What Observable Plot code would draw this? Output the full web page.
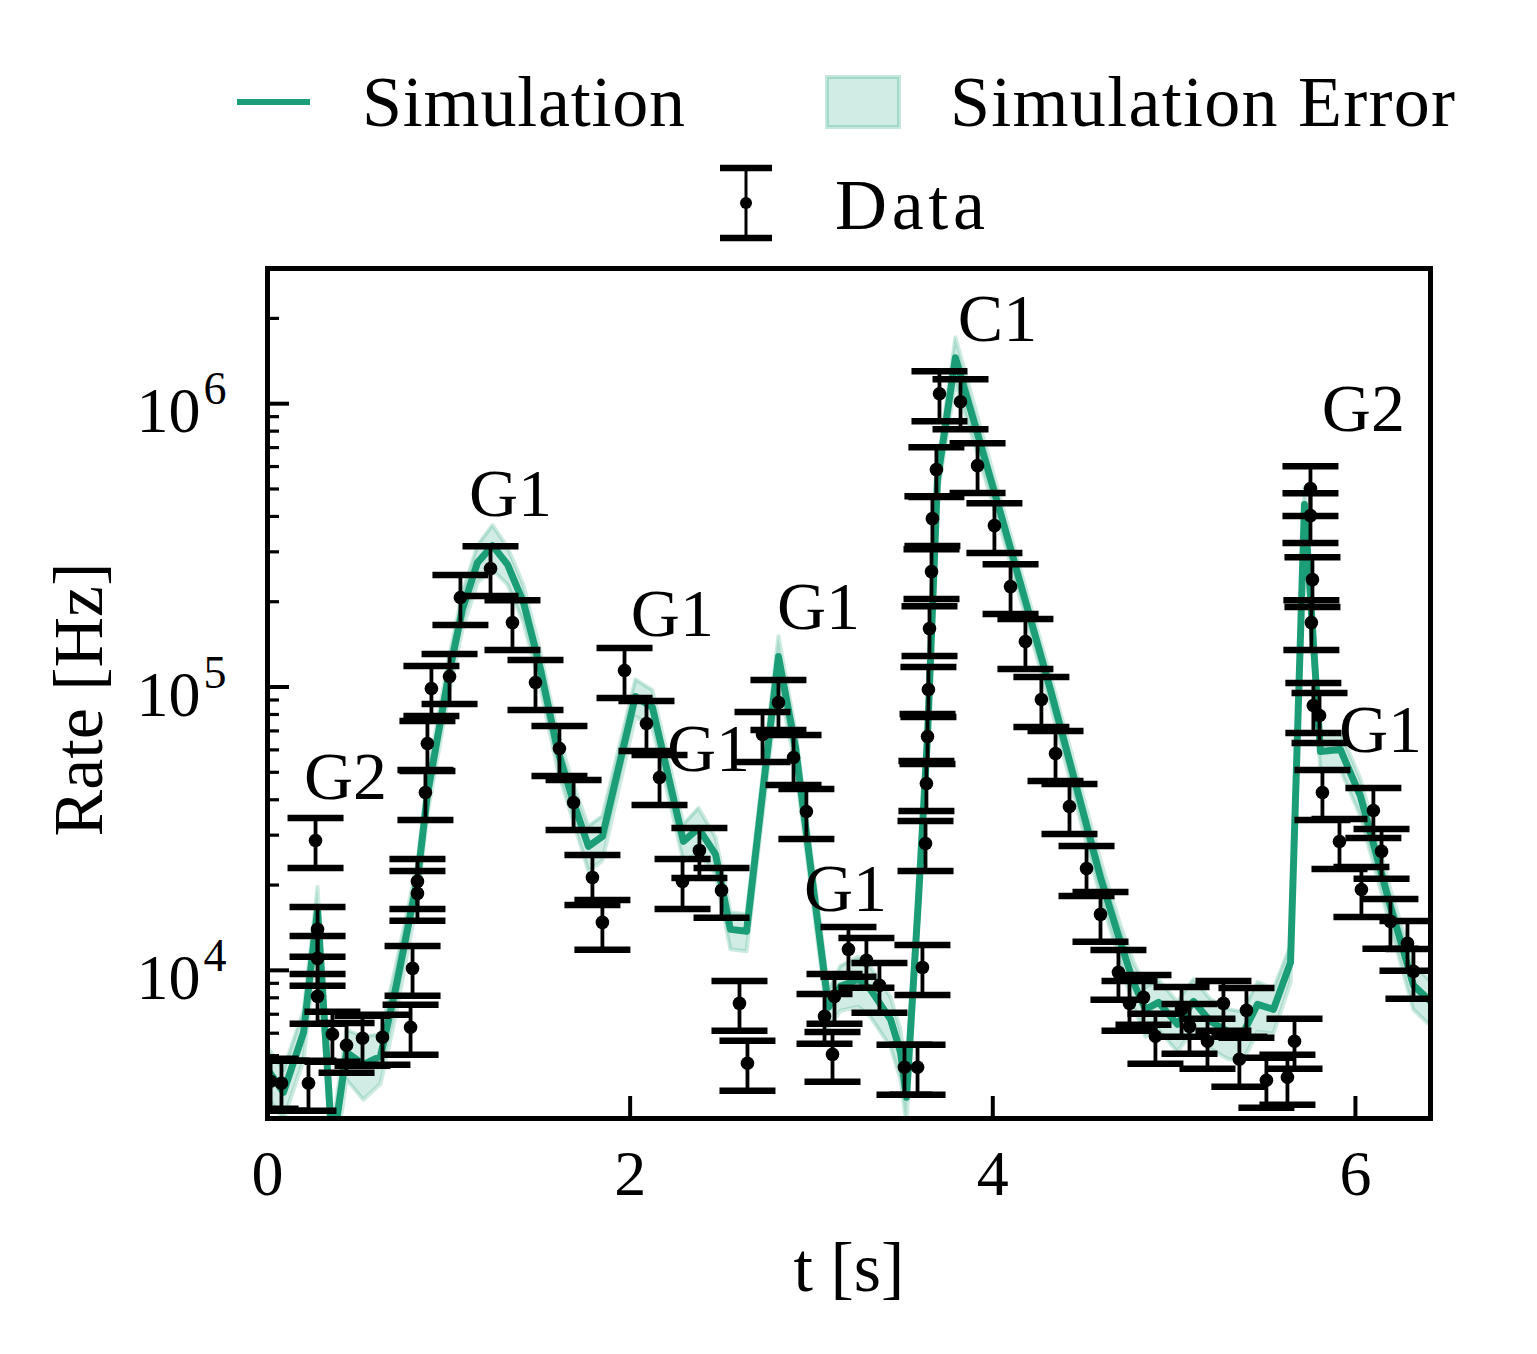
<!DOCTYPE html>
<html>
<head>
<meta charset="utf-8">
<script src="https://cdn.jsdelivr.net/npm/d3@7"></script>
<script src="https://cdn.jsdelivr.net/npm/@observablehq/plot@0.6"></script>
<style>
  html, body { margin: 0; padding: 0; background: #fff; }
  #wrap { position: relative; width: 1537px; height: 1354px; overflow: hidden; }
  #chart, #legend { position: absolute; left: 0; top: 0; }
  #legend text { font-family: "Liberation Serif", serif; font-size: 72px; fill: #000; }
</style>
</head>
<body>
<div id="wrap">
  <div id="chart"></div>
  <svg id="legend" width="1537" height="260">
    <line x1="237" x2="310" y1="102" y2="102" stroke="#1b9e77" stroke-width="6"></line>
    <text x="362" y="126" textLength="323" lengthAdjust="spacing">Simulation</text>
    <rect x="827" y="77" width="72" height="50" fill="#1b9e77" fill-opacity="0.2" stroke="#1b9e77" stroke-opacity="0.25" stroke-width="4"></rect>
    <text x="950" y="126" textLength="505" lengthAdjust="spacing">Simulation Error</text>
    <line x1="746" x2="746" y1="168" y2="238" stroke="#000" stroke-width="3"></line>
    <line x1="720" x2="772" y1="168" y2="168" stroke="#000" stroke-width="6.5"></line>
    <line x1="720" x2="772" y1="238" y2="238" stroke="#000" stroke-width="6.5"></line>
    <circle cx="746" cy="203" r="6" fill="#000"></circle>
    <text x="835" y="229" textLength="150" lengthAdjust="spacing">Data</text>
  </svg>
</div>
<script>
// ---- Data ----
const dataTime = [0.017,0.077,0.226,0.265,0.276,0.276,0.276,0.358,0.436,0.524,0.634,0.789,0.800,0.827,0.827,0.871,0.882,0.904,1.004,1.064,1.230,1.351,1.478,1.610,1.688,1.792,1.847,1.969,2.090,2.162,2.289,2.382,2.504,2.603,2.647,2.730,2.818,2.901,2.972,3.072,3.116,3.127,3.204,3.303,3.375,3.513,3.585,3.612,3.629,3.634,3.640,3.645,3.651,3.662,3.667,3.689,3.706,3.822,3.916,4.009,4.098,4.180,4.268,4.346,4.423,4.517,4.594,4.693,4.754,4.831,4.897,5.041,5.085,5.184,5.272,5.360,5.399,5.509,5.625,5.664,5.752,5.752,5.763,5.757,5.768,5.802,5.818,5.912,6.033,6.099,6.144,6.193,6.287,6.320];
const dataRate = [4060,3995,3995,28740,13950,11020,8095,5947,5438,5757,5804,6296,10160,18690,20600,42450,63200,98790,108900,206900,261800,168800,103700,60690,39140,21280,14770,114400,74330,47950,20600,26500,19150,7648,4699,68000,88170,56410,36370,6880,5054,8095,11860,10850,8853,4548,4548,10240,28050,45670,66900,98000,160800,255500,392900,585200,1084000,1016000,604400,371200,226200,144700,90330,58270,37880,22890,15760,9838,7648,8030,5852,7286,6345,5619,7648,4855,7226,4093,4194,5619,501500,402600,239400,168800,86050,79330,42450,28510,19300,36670,26290,14890,12450,9919];
const DATA_REL_ERR = 0.2;

const simTime = [0,0.088,0.199,0.276,0.358,0.436,0.529,0.623,0.706,0.827,0.882,0.998,1.075,1.158,1.241,1.324,1.412,1.506,1.599,1.688,1.770,1.847,2.029,2.123,2.294,2.377,2.471,2.553,2.642,2.818,2.912,3.094,3.160,3.259,3.325,3.436,3.491,3.524,3.590,3.640,3.695,3.794,4.042,4.318,4.594,4.704,4.776,4.842,4.914,5.018,5.107,5.200,5.294,5.377,5.460,5.548,5.642,5.719,5.807,5.917,6.028,6.193,6.320,6.414];
const simRate = [4475,3712,6044,16420,2337,5137,4660,4972,8570,20940,41770,108900,187700,274900,315600,270400,198700,115300,60190,39140,27370,29700,92580,84670,28510,31690,25660,13950,13730,128100,61180,7405,8780,9296,8570,6716,5137,3565,17800,66900,539500,1453000,412500,98000,21280,12550,9072,7286,7711,6448,7774,6607,6092,5947,7587,7286,10670,440300,59220,60190,41090,16810,8853,7774];
const simRelErr = [0.2,0.2,0.2,0.2,0.2,0.2,0.25,0.2,0.2,0.15,0.15,0.15,0.15,0.15,0.18,0.15,0.15,0.15,0.15,0.15,0.18,0.18,0.15,0.15,0.15,0.18,0.15,0.15,0.15,0.18,0.15,0.15,0.18,0.2,0.2,0.2,0.2,0.2,0.15,0.12,0.12,0.18,0.12,0.12,0.15,0.15,0.18,0.2,0.2,0.2,0.2,0.2,0.2,0.2,0.2,0.18,0.15,0.15,0.15,0.15,0.15,0.15,0.18,0.18];

const labelText = ["G2","G1","G1","G1","G1","G1","C1","G2","G1"];
const labelTime = [0.430,1.340,2.233,2.432,3.039,3.188,4.026,6.044,6.138];
const labelRate = [47970,477500,180200,60190,190800,19300,1979000,952400,70260];

const xTicks = [0,2,4,6];
const yMajor = [1e4,1e5,1e6];
const yMinor = [];
for (const p of [1e3,1e4,1e5,1e6]) for (let k = 2; k <= 9; k++) { const v = k*p; if (v > 3000 && v < 3e6) yMinor.push(v); }

// ---- Build tables ----
const GREEN = "#1b9e77";
const pts = dataTime.map((t,i) => ({t, rate: dataRate[i], lo: dataRate[i]*(1-DATA_REL_ERR), hi: dataRate[i]*(1+DATA_REL_ERR)}));
const sim = simTime.map((t,i) => ({t, rate: simRate[i], lo: simRate[i]*(1-simRelErr[i]), hi: simRate[i]*(1+simRelErr[i])}));
const labels = labelText.map((name,i) => ({name, t: labelTime[i], rate: labelRate[i]}));

const W = 1537, H = 1354, mL = 267, mT = 268, mR = 107, mB = 236;
const frameW = W - mL - mR, frameH = H - mT - mB;
const FONT = '"Liberation Serif", serif';
const capSymbol = { draw(ctx, size) { const r = Math.sqrt(size / Math.PI); ctx.moveTo(-r, 0); ctx.lineTo(r, 0); } };

const chart = Plot.plot({
  width: W, height: H,
  marginLeft: mL, marginTop: mT, marginRight: mR, marginBottom: mB,
  style: { fontFamily: FONT, fontSize: "62px", background: "transparent", color: "black", overflow: "visible" },
  x: { domain: [0, 6.414], axis: null },
  y: { type: "log", domain: [3000, 3e6], axis: null },
  marks: [
    Plot.areaY(sim, { x: "t", y1: "lo", y2: "hi", fill: GREEN, fillOpacity: 0.2, clip: true }),
    Plot.line(sim, { x: "t", y: "lo", stroke: GREEN, strokeOpacity: 0.22, strokeWidth: 4, clip: true }),
    Plot.line(sim, { x: "t", y: "hi", stroke: GREEN, strokeOpacity: 0.22, strokeWidth: 4, clip: true }),
    Plot.line(sim, { x: "t", y: "rate", stroke: GREEN, strokeWidth: 7, clip: true }),
    Plot.ruleX(pts, { x: "t", y1: "lo", y2: "hi", stroke: "black", strokeWidth: 3.8, clip: true }),
    Plot.dot(pts, { x: "t", y: "hi", symbol: capSymbol, r: 28, stroke: "black", strokeWidth: 6.5, fill: "none", clip: true }),
    Plot.dot(pts, { x: "t", y: "lo", symbol: capSymbol, r: 28, stroke: "black", strokeWidth: 6.5, fill: "none", clip: true }),
    Plot.dot(pts, { x: "t", y: "rate", r: 6.8, fill: "black", stroke: "none", clip: true }),
    Plot.text(labels, { x: "t", y: "rate", text: "name", fontSize: 68, fill: "black" }),
    // ticks (inward)
    Plot.ruleX(xTicks, { x: d => d, insetTop: frameH - 22, stroke: "black", strokeWidth: 4 }),
    Plot.ruleY(yMajor, { y: d => d, insetRight: frameW - 22, stroke: "black", strokeWidth: 4 }),
    Plot.ruleY(yMinor, { y: d => d, insetRight: frameW - 12, stroke: "black", strokeWidth: 3.2 }),
    // tick labels
    Plot.text(xTicks, { x: d => d, frameAnchor: "bottom", lineAnchor: "middle", textAnchor: "middle", text: d => String(d), dy: 56, fontSize: 64 }),
    Plot.text(yMajor, { y: d => d, frameAnchor: "left", lineAnchor: "middle", text: () => "10", textAnchor: "end", dx: -67, dy: 8, fontSize: 64 }),
    Plot.text(yMajor, { y: d => d, frameAnchor: "left", lineAnchor: "middle", text: d => String(Math.round(Math.log10(d))), textAnchor: "start", dx: -64, dy: -14, fontSize: 46 }),
    // axis titles
    Plot.text(["t [s]"], { frameAnchor: "bottom", lineAnchor: "middle", textAnchor: "middle", text: d => d, dy: 150, fontSize: 70 }),
    Plot.text(["Rate [Hz]"], { frameAnchor: "left", lineAnchor: "middle", textAnchor: "middle", text: d => d, rotate: -90, dx: -188, dy: 6, fontSize: 70 }),
    Plot.frame({ stroke: "black", strokeWidth: 5 })
  ]
});
document.getElementById("chart").appendChild(chart);
</script>
</body>
</html>
